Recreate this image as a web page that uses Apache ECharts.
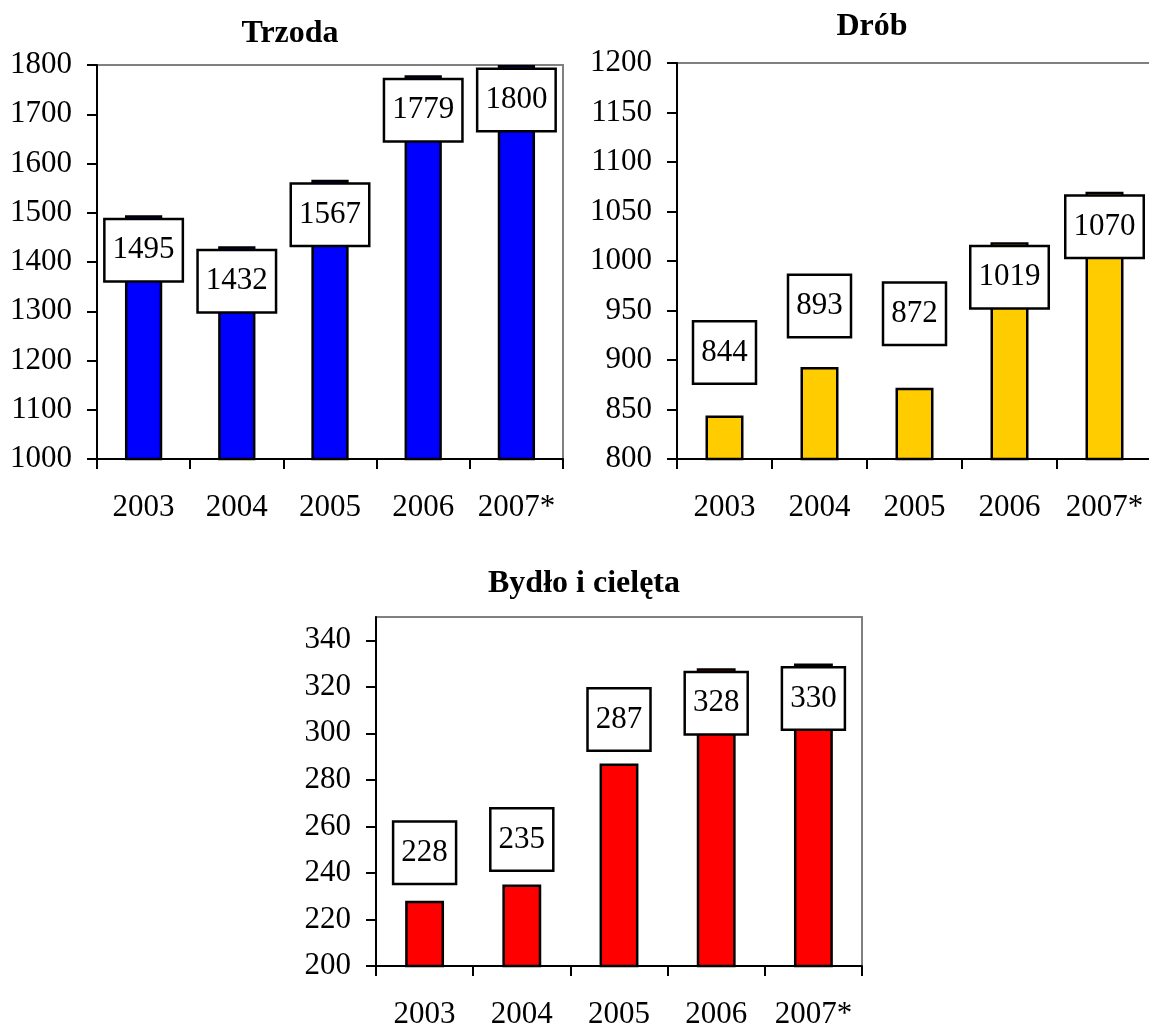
<!DOCTYPE html>
<html>
<head>
<meta charset="utf-8">
<script src="https://cdn.jsdelivr.net/npm/echarts@6/dist/echarts.min.js"></script>
<style>
html,body{margin:0;padding:0;background:#fff;}
#c{width:1149px;height:1025px;}
</style>
</head>
<body>
<div id="c"></div>
<script>
// ---- data ----
const categories = ['2003', '2004', '2005', '2006', '2007*'];
const trzoda = [1495, 1432, 1567, 1779, 1800];
const drob = [844, 893, 872, 1019, 1070];
const bydlo = [228, 235, 287, 328, 330];
const titles = ['Trzoda', 'Drób', 'Bydło i cielęta'];
const bydloTicks = [200, 220, 240, 260, 280, 300, 320, 340];

// label placement (position, distance in px) per bar
const trzodaLabelPlace = [['insideTop', 5], ['insideTop', 5], ['insideTop', 5], ['insideTop', 5], ['insideTop', 5]];
const drobLabelPlace = [['top', 33], ['top', 31], ['top', 44], ['insideTop', 5], ['insideTop', 5]];
const bydloLabelPlace = [['top', 18], ['top', 15], ['top', 14], ['insideTop', 5], ['insideTop', 5]];

const FONT = "'Liberation Serif', 'Times New Roman', serif";

function mkData(vals, place) {
  return vals.map((v, i) => ({
    value: v,
    label: { position: place[i][0], distance: place[i][1] }
  }));
}

function xAxis(gi) {
  return {
    type: 'category', gridIndex: gi, data: categories,
    boundaryGap: true,
    axisLine: { lineStyle: { color: '#000', width: 2 } },
    axisTick: { show: true, length: 10, lineStyle: { color: '#000', width: 2 } },
    axisLabel: { color: '#000', fontFamily: FONT, fontSize: 31, margin: 33, interval: 0, hideOverlap: false },
    splitLine: { show: false }
  };
}
function yAxis(gi, min, max, interval, custom) {
  const ax = {
    type: 'value', gridIndex: gi, min: min, max: max, interval: interval,
    axisLine: { show: true, lineStyle: { color: '#000', width: 2 } },
    axisTick: { show: true, length: 10, lineStyle: { color: '#000', width: 2 } },
    axisLabel: { color: '#000', fontFamily: FONT, fontSize: 31, margin: 25, formatter: v => String(v) },
    splitLine: { show: false }
  };
  if (custom) {
    ax.axisLabel.customValues = custom;
    ax.axisTick.customValues = custom;
  }
  return ax;
}
function barSeries(gi, vals, place, color) {
  return {
    type: 'bar', xAxisIndex: gi, yAxisIndex: gi,
    data: mkData(vals, place),
    barWidth: '40%',
    itemStyle: { color: color, borderColor: '#000', borderWidth: 2.5 },
    label: {
      show: true, color: '#000', fontFamily: FONT, fontSize: 31,
      backgroundColor: '#fff', borderColor: '#000', borderWidth: 2.5,
      padding: [15, 7, 15, 7], lineHeight: 30,
      formatter: p => String(p.value)
    },
    z: 2
  };
}
const titleStyle = { color: '#000', fontFamily: FONT, fontSize: 32, fontWeight: 'bold' };

const gridBase = { show: true, borderColor: '#808080', borderWidth: 2, containLabel: false, outerBoundsMode: 'none' };

const chart = echarts.init(document.getElementById('c'), null, { renderer: 'canvas' });
chart.setOption({
  animation: false,
  backgroundColor: '#fff',
  title: [
    { text: titles[0], left: 290, top: 18, textAlign: 'center', padding: 0, textStyle: titleStyle },
    { text: titles[1], left: 872, top: 11, textAlign: 'center', padding: 0, textStyle: titleStyle },
    { text: titles[2], left: 584, top: 568, textAlign: 'center', padding: 0, textStyle: titleStyle }
  ],
  grid: [
    Object.assign({ left: 97, top: 65, width: 466, height: 394 }, gridBase),
    Object.assign({ left: 677, top: 63, width: 475, height: 396 }, gridBase),
    Object.assign({ left: 376, top: 617, width: 486, height: 349 }, gridBase)
  ],
  xAxis: [xAxis(0), xAxis(1), xAxis(2)],
  yAxis: [
    yAxis(0, 1000, 1800, 100),
    yAxis(1, 800, 1200, 50),
    yAxis(2, 200, 350, 20, bydloTicks)
  ],
  series: [
    barSeries(0, trzoda, trzodaLabelPlace, '#0000FF'),
    barSeries(1, drob, drobLabelPlace, '#FFCC00'),
    barSeries(2, bydlo, bydloLabelPlace, '#FF0000')
  ]
});
</script>
</body>
</html>
